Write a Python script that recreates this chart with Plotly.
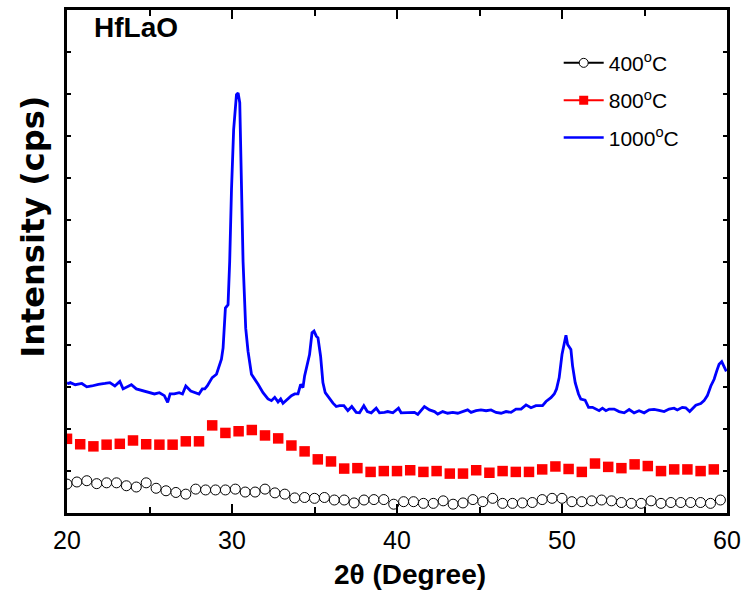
import plotly.graph_objects as go

# 1000 C scan (2theta in degrees, intensity in arbitrary cps units)
blue_x = [20.0, 20.1, 20.2, 20.5, 20.9, 21.2, 21.5, 21.9, 22.3, 22.6,
          22.9, 23.2, 23.4, 23.7, 23.9, 24.2, 24.6, 25.0, 25.3, 25.6,
          25.9, 26.1, 26.25, 26.5, 26.8, 27.0, 27.2, 27.5, 27.8, 28.0,
          28.2, 28.35, 28.5, 28.65, 28.8, 29.06, 29.36, 29.46, 29.6, 29.76,
          29.86, 29.97, 30.1, 30.27, 30.37, 30.47, 30.57, 30.67, 30.83, 30.97,
          31.18, 31.38, 31.58, 31.88, 32.18, 32.39, 32.59, 32.79, 32.95, 33.09,
          33.39, 33.6, 33.8, 34.0, 34.16, 34.3, 34.4, 34.6, 34.7, 34.85,
          34.97, 35.11, 35.21, 35.37, 35.51, 35.65, 35.85, 36.12, 36.32, 36.52,
          36.78, 37.02, 37.26, 37.53, 37.73, 37.99, 38.2, 38.44, 38.74, 38.94,
          39.24, 39.44, 39.75, 40.09, 40.25, 40.56, 40.86, 41.06, 41.26, 41.46,
          41.66, 41.97, 42.27, 42.47, 42.77, 43.07, 43.38, 43.68, 43.98, 44.28,
          44.49, 44.79, 45.09, 45.4, 45.7, 46.0, 46.31, 46.61, 46.91, 47.21,
          47.52, 47.82, 48.12, 48.42, 48.82, 49.03, 49.33, 49.53, 49.67, 49.83,
          50.0, 50.14, 50.24, 50.34, 50.54, 50.64, 50.8, 51.0, 51.14, 51.4,
          51.61, 51.85, 52.05, 52.25, 52.45, 52.66, 52.86, 53.16, 53.46, 53.77,
          54.07, 54.37, 54.67, 54.98, 55.28, 55.58, 55.88, 56.19, 56.49, 56.79,
          56.99, 57.29, 57.5, 57.74, 58.11, 58.41, 58.61, 58.81, 59.02, 59.22,
          59.38, 59.52, 59.68, 59.82, 59.96]
blue_y = [311, 309, 311, 306, 309, 301, 303, 307, 309, 311,
          303, 314, 296, 301, 306, 296, 291, 287, 284, 287,
          280, 264, 284, 284, 287, 284, 303, 291, 287, 284,
          296, 296, 303, 315, 323, 331, 367, 394, 489, 497,
          600, 773, 915, 998, 1002, 979, 758, 600, 441, 386,
          331, 320, 307, 287, 272, 268, 276, 265, 272, 262,
          272, 280, 284, 284, 307, 299, 327, 367, 378, 430,
          434, 422, 418, 374, 311, 287, 276, 262, 254, 256,
          256, 244, 254, 240, 239, 256, 242, 239, 250, 239,
          240, 242, 239, 250, 239, 240, 240, 240, 235, 244,
          254, 246, 242, 236, 242, 238, 240, 238, 242, 246,
          240, 244, 246, 244, 246, 240, 238, 242, 240, 248,
          248, 258, 251, 256, 256, 266, 275, 284, 296, 323,
          378, 402, 424, 402, 390, 351, 311, 284, 272, 269,
          252, 252, 248, 244, 250, 244, 248, 248, 242, 239,
          247, 239, 244, 239, 246, 247, 245, 242, 248, 250,
          246, 252, 251, 242, 257, 261, 268, 280, 303, 319,
          339, 355, 361, 351, 338]

# 800 C scan (red squares)
red_x = [20.0, 20.8, 21.6, 22.4, 23.2, 24.0, 24.8, 25.6, 26.4, 27.2,
         28.0, 28.8, 29.6, 30.4, 31.2, 32.0, 32.8, 33.6, 34.4, 35.2,
         36.0, 36.8, 37.6, 38.4, 39.2, 40.0, 40.8, 41.6, 42.4, 43.2,
         44.0, 44.8, 45.6, 46.4, 47.2, 48.0, 48.8, 49.6, 50.4, 51.2,
         52.0, 52.8, 53.6, 54.4, 55.2, 56.0, 56.8, 57.6, 58.4, 59.2]
red_y = [177, 164, 159, 163, 165, 173, 164, 163, 163, 171,
         171, 209, 191, 195, 198, 185, 178, 161, 147, 128,
         123, 106, 107, 98, 100, 100, 102, 98, 100, 94,
         94, 102, 96, 100, 98, 98, 104, 111, 105, 98,
         118, 110, 107, 116, 112, 100, 104, 104, 100, 104]

# 400 C scan (open circles)
circ_x = [20.0, 20.6, 21.2, 21.8, 22.4, 23.0, 23.6, 24.2, 24.8, 25.4,
          26.0, 26.6, 27.2, 27.8, 28.4, 29.0, 29.6, 30.2, 30.8, 31.4,
          32.0, 32.6, 33.2, 33.8, 34.4, 35.0, 35.6, 36.2, 36.8, 37.4,
          38.0, 38.6, 39.2, 39.8, 40.4, 41.0, 41.6, 42.2, 42.8, 43.4,
          44.0, 44.6, 45.2, 45.8, 46.4, 47.0, 47.6, 48.2, 48.8, 49.4,
          50.0, 50.6, 51.2, 51.8, 52.4, 53.0, 53.6, 54.2, 54.8, 55.4,
          56.0, 56.6, 57.2, 57.8, 58.4, 59.0, 59.6]
circ_y = [69, 74, 77, 70, 72, 72, 65, 62, 72, 59,
          53, 49, 45, 57, 55, 55, 55, 57, 50, 50,
          57, 48, 45, 36, 37, 35, 37, 31, 31, 24,
          31, 32, 32, 21, 27, 27, 23, 23, 29, 21,
          24, 32, 27, 35, 23, 23, 24, 25, 32, 35,
          35, 27, 27, 29, 31, 29, 25, 23, 23, 29,
          23, 25, 25, 25, 25, 23, 31]

series_names = ["400<sup>o</sup>C", "800<sup>o</sup>C", "1000<sup>o</sup>C"]
x_tick_vals = [20, 30, 40, 50, 60]
x_tick_text = ["20", "30", "40", "50", "60"]

FONT = "Liberation Sans, Arial, sans-serif"

fig = go.Figure()

# data traces (no legend)
fig.add_trace(go.Scatter(x=circ_x, y=circ_y, mode="markers", showlegend=False,
                         marker=dict(symbol="circle", size=10, color="white",
                                     line=dict(color="black", width=1))))
fig.add_trace(go.Scatter(x=red_x, y=red_y, mode="markers", showlegend=False,
                         marker=dict(symbol="square", size=10.5, color="#ff0000",
                                     line=dict(width=0))))
fig.add_trace(go.Scatter(x=blue_x, y=blue_y, mode="lines", showlegend=False,
                         line=dict(color="#0000ff", width=2.8)))

# legend entries
fig.add_trace(go.Scatter(x=[None], y=[None], mode="lines+markers", name=series_names[0],
                         legendgroup="a",
                         line=dict(color="black", width=2),
                         marker=dict(symbol="circle", size=9, color="white",
                                     line=dict(color="black", width=1))))
fig.add_trace(go.Scatter(x=[None], y=[None], mode="lines+markers", name=series_names[1],
                         legendgroup="b",
                         line=dict(color="#ff0000", width=2),
                         marker=dict(symbol="square", size=9, color="#ff0000")))
fig.add_trace(go.Scatter(x=[None], y=[None], mode="lines", name=series_names[2],
                         legendgroup="c",
                         line=dict(color="#0000ff", width=2.5)))

fig.update_layout(
    width=748, height=596,
    margin=dict(l=67, r=20, t=7, b=83),
    paper_bgcolor="white", plot_bgcolor="white",
    font=dict(family=FONT, color="black"),
    legend=dict(x=0.745, y=0.935, xanchor="left", yanchor="top",
                bgcolor="rgba(0,0,0,0)", font=dict(size=21, family=FONT),
                traceorder="grouped", tracegroupgap=7, itemwidth=40),
    xaxis=dict(range=[20, 60], tickmode="array", tickvals=x_tick_vals, ticktext=x_tick_text,
               ticks="inside", ticklen=9, tickwidth=1.5, tickcolor="black",
               minor=dict(dtick=5, ticks="inside", ticklen=6, tickwidth=1.5, tickcolor="black"),
               showline=True, linecolor="black", linewidth=2.5, mirror="allticks",
               showgrid=False, zeroline=False, ticklabelstandoff=3,
               tickfont=dict(size=25, family=FONT)),
    yaxis=dict(range=[0, 1200], dtick=100, ticks="inside", ticklen=4, tickwidth=1.5,
               tickcolor="black", showticklabels=False,
               showline=True, linecolor="black", linewidth=2.5, mirror="allticks",
               showgrid=False, zeroline=False),
    annotations=[
        dict(text="HfLaO", xref="paper", yref="paper", x=0.104, y=0.966,
             xanchor="center", yanchor="middle", showarrow=False,
             font=dict(size=28, family=FONT, weight="bold")),
        dict(text="Intensity (cps)", xref="paper", yref="paper", x=-0.051, y=0.57,
             xanchor="center", yanchor="middle", showarrow=False, textangle=-90,
             font=dict(size=32, family="DejaVu Sans, sans-serif", weight="bold")),
        dict(text="2\u03b8 (Degree)", xref="paper", yref="paper", x=0.52, y=-0.122,
             xanchor="center", yanchor="middle", showarrow=False,
             font=dict(size=28, family=FONT, weight="bold")),
    ],
)

fig.write_html("out.html")
